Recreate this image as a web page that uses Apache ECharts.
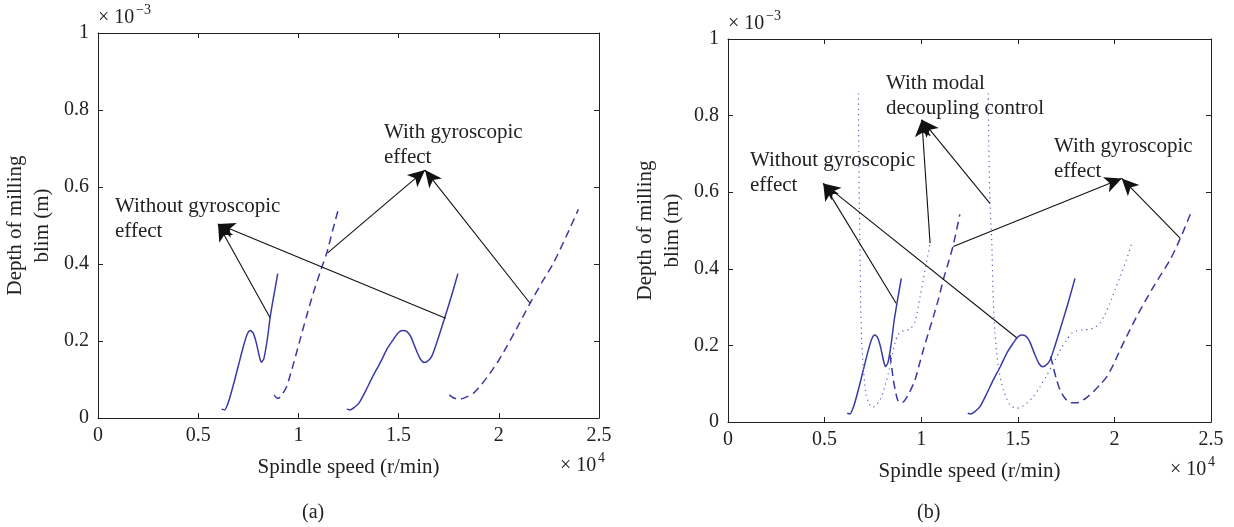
<!DOCTYPE html>
<html>
<head>
<meta charset="utf-8">
<script src="https://cdn.jsdelivr.net/npm/echarts@6/dist/echarts.min.js"></script>
<style>
  html, body { margin: 0; padding: 0; background: #fff; }
  #main { width: 1234px; height: 527px; }
</style>
</head>
<body>
<div id="main"></div>
<script>
// x in 10^4 r/min, y in 10^-3 m
const xTicks = [0, 0.5, 1, 1.5, 2, 2.5];
const yTicks = [0, 0.2, 0.4, 0.6, 0.8, 1];

// without gyroscopic effect (same in both panels)
const solidLow = [[0.617,0.023],[0.631,0.021],[0.650,0.040],[0.675,0.085],[0.700,0.135],[0.725,0.185],[0.745,0.218],[0.760,0.227],[0.775,0.220],[0.790,0.195],[0.805,0.160],[0.815,0.145],[0.828,0.155],[0.845,0.205],[0.860,0.265],[0.878,0.320],[0.897,0.375]];
const solidHigh = [[1.241,0.023],[1.257,0.021],[1.280,0.028],[1.304,0.040],[1.340,0.075],[1.373,0.110],[1.410,0.145],[1.443,0.180],[1.475,0.205],[1.500,0.222],[1.520,0.227],[1.540,0.225],[1.560,0.212],[1.589,0.175],[1.610,0.152],[1.629,0.144],[1.650,0.150],[1.667,0.162],[1.690,0.195],[1.718,0.240],[1.757,0.305],[1.796,0.375]];

// with gyroscopic effect, panel (a)
const dashLowA = [[0.878,0.060],[0.890,0.053],[0.900,0.051],[0.920,0.062],[0.941,0.081],[0.975,0.140],[1.008,0.203],[1.041,0.265],[1.074,0.324],[1.108,0.378],[1.141,0.428],[1.170,0.485],[1.199,0.542]];
const dashHighA = [[1.753,0.060],[1.775,0.052],[1.806,0.049],[1.840,0.055],[1.873,0.064],[1.915,0.088],[1.956,0.116],[2.000,0.150],[2.039,0.185],[2.100,0.243],[2.156,0.298],[2.215,0.352],[2.272,0.402],[2.335,0.470],[2.397,0.542]];

// with gyroscopic effect, panel (b)
const dashLowB = [[0.839,0.175],[0.848,0.140],[0.856,0.110],[0.865,0.085],[0.873,0.066],[0.880,0.056],[0.890,0.050],[0.903,0.051],[0.916,0.057],[0.940,0.078],[0.968,0.110],[0.990,0.150],[1.011,0.188],[1.037,0.232],[1.063,0.275],[1.090,0.322],[1.114,0.371],[1.140,0.415],[1.166,0.462],[1.200,0.542]];
const dashHighB = [[1.670,0.171],[1.685,0.140],[1.701,0.110],[1.720,0.082],[1.744,0.062],[1.765,0.052],[1.787,0.050],[1.805,0.050],[1.822,0.053],[1.855,0.063],[1.891,0.079],[1.925,0.097],[1.960,0.118],[1.995,0.150],[2.029,0.188],[2.072,0.232],[2.115,0.275],[2.158,0.314],[2.202,0.353],[2.245,0.388],[2.288,0.423],[2.340,0.478],[2.395,0.545]];

// with modal decoupling control, panel (b)
const dotLowB = [[0.675,0.858],[0.677,0.700],[0.680,0.560],[0.683,0.458],[0.687,0.301],[0.692,0.214],[0.700,0.144],[0.714,0.075],[0.730,0.048],[0.749,0.038],[0.767,0.045],[0.787,0.057],[0.810,0.090],[0.830,0.127],[0.848,0.170],[0.864,0.205],[0.880,0.228],[0.899,0.236],[0.920,0.240],[0.942,0.242],[0.968,0.262],[0.994,0.327],[1.020,0.397],[1.046,0.467]];
const dotHighB = [[1.347,0.858],[1.350,0.720],[1.356,0.571],[1.365,0.475],[1.373,0.319],[1.382,0.232],[1.399,0.144],[1.425,0.084],[1.460,0.044],[1.494,0.036],[1.520,0.040],[1.546,0.049],[1.580,0.066],[1.615,0.092],[1.650,0.122],[1.684,0.153],[1.720,0.188],[1.753,0.214],[1.780,0.232],[1.805,0.238],[1.840,0.241],[1.874,0.242],[1.900,0.248],[1.925,0.258],[1.950,0.280],[1.977,0.310],[2.003,0.345],[2.029,0.379],[2.060,0.420],[2.090,0.467]];

// annotation arrows: [tail, head]
const arrowsA = [
  [[0.858,0.261],[0.599,0.504]],
  [[1.735,0.259],[0.599,0.504]],
  [[1.146,0.429],[1.632,0.644]],
  [[2.156,0.298],[1.632,0.644]]
];
const arrowsB = [
  [[0.870,0.310],[0.493,0.623]],
  [[1.494,0.220],[0.493,0.623]],
  [[1.046,0.467],[1.003,0.789]],
  [[1.356,0.571],[1.003,0.789]],
  [[1.166,0.458],[2.038,0.636]],
  [[2.340,0.480],[2.038,0.636]]
];

const FONT = 'Liberation Serif';
const INK = '#222';
const BLUE = '#3a3aa6';

const chart = echarts.init(document.getElementById('main'), null, { renderer: 'canvas' });

function xAx(grid, pos) {
  const main = pos === 'bottom';
  return {
    type: 'value', gridIndex: grid, position: pos, min: 0, max: 2.5, interval: 0.5,
    axisLine: { show: true, onZero: false, lineStyle: { color: INK, width: 1 } },
    axisTick: { show: true, inside: true, length: 5, lineStyle: { color: INK } },
    axisLabel: { show: main, color: INK, fontFamily: FONT, fontSize: 20, margin: 8 },
    splitLine: { show: false },
    name: main ? 'Spindle speed (r/min)' : '',
    nameLocation: 'middle', nameGap: 39,
    nameTextStyle: { color: INK, fontFamily: FONT, fontSize: 21 }
  };
}
function yAx(grid, pos) {
  const main = pos === 'left';
  return {
    type: 'value', gridIndex: grid, position: pos, min: 0, max: 1, interval: 0.2,
    axisLine: { show: true, onZero: false, lineStyle: { color: INK, width: 1 } },
    axisTick: { show: true, inside: true, length: 5, lineStyle: { color: INK } },
    axisLabel: { show: main, color: INK, fontFamily: FONT, fontSize: 20, margin: 9 },
    splitLine: { show: false },
    name: main ? 'Depth of milling\nblim (m)' : '',
    nameLocation: 'middle', nameGap: 42,
    nameTextStyle: { color: INK, fontFamily: FONT, fontSize: 21, lineHeight: 27 }
  };
}

function curve(data, axisIdx, type) {
  const lineStyle = { color: BLUE, width: 1.5 };
  if (type === 'dashed') lineStyle.type = [8, 5];
  if (type === 'dotted') { lineStyle.type = [1.2, 4]; lineStyle.width = 1.2; lineStyle.color = '#5a5ac8'; }
  return {
    type: 'line', xAxisIndex: axisIdx, yAxisIndex: axisIdx, data,
    showSymbol: false, symbol: 'none', smooth: 0.25, lineStyle, silent: true, z: 2
  };
}

function arrowSeries(list, axisIdx) {
  return {
    type: 'line', xAxisIndex: axisIdx, yAxisIndex: axisIdx, data: [], silent: true,
    markLine: {
      silent: true, animation: false,
      symbol: ['none', 'arrow'], symbolSize: [12, 17],
      label: { show: false },
      lineStyle: { color: '#111', width: 1.1, type: 'solid' },
      emphasis: { disabled: true },
      data: list.map(([a, b]) => [{ coord: a }, { coord: b }])
    },
    z: 3
  };
}

const textStyle = { fill: INK, font: '21px "' + FONT + '"', lineHeight: 25 };
function label(x, y, text) {
  return { type: 'text', left: x, top: y, style: Object.assign({ text }, textStyle), z: 10 };
}

chart.setOption({
  animation: false,
  grid: [
    { left: 98, right: 635, top: 33, bottom: 109 },
    { left: 728, right: 23, top: 39, bottom: 105 }
  ],
  xAxis: [xAx(0, 'bottom'), xAx(0, 'top'), xAx(1, 'bottom'), xAx(1, 'top')],
  yAxis: [yAx(0, 'left'), yAx(0, 'right'), yAx(1, 'left'), yAx(1, 'right')],
  series: [
    curve(solidLow, 0, 'solid'),
    curve(solidHigh, 0, 'solid'),
    curve(dashLowA, 0, 'dashed'),
    curve(dashHighA, 0, 'dashed'),
    arrowSeries(arrowsA, 0),
    curve(solidLow, 2, 'solid'),
    curve(solidHigh, 2, 'solid'),
    curve(dashLowB, 2, 'dashed'),
    curve(dashHighB, 2, 'dashed'),
    curve(dotLowB, 2, 'dotted'),
    curve(dotHighB, 2, 'dotted'),
    arrowSeries(arrowsB, 2)
  ],
  graphic: [
    label(115, 194, 'Without gyroscopic\neffect'),
    label(384, 120, 'With gyroscopic\neffect'),
    label(750, 148, 'Without gyroscopic\neffect'),
    label(886, 71, 'With modal\ndecoupling control'),
    label(1054, 134, 'With gyroscopic\neffect'),
    // axis multipliers
    { type: 'text', left: 98, top: 8, style: { text: '× 10', fill: INK, font: '20px "' + FONT + '"' } },
    { type: 'text', left: 136, top: 3, style: { text: '−3', fill: INK, font: '14px "' + FONT + '"' } },
    { type: 'text', left: 728, top: 14, style: { text: '× 10', fill: INK, font: '20px "' + FONT + '"' } },
    { type: 'text', left: 766, top: 9, style: { text: '−3', fill: INK, font: '14px "' + FONT + '"' } },
    { type: 'text', left: 560, top: 456, style: { text: '× 10', fill: INK, font: '20px "' + FONT + '"' } },
    { type: 'text', left: 598, top: 451, style: { text: '4', fill: INK, font: '14px "' + FONT + '"' } },
    { type: 'text', left: 1170, top: 460, style: { text: '× 10', fill: INK, font: '20px "' + FONT + '"' } },
    { type: 'text', left: 1208, top: 455, style: { text: '4', fill: INK, font: '14px "' + FONT + '"' } },
    // panel captions
    { type: 'text', left: 302, top: 503, style: { text: '(a)', fill: INK, font: '20px "' + FONT + '"' } },
    { type: 'text', left: 917, top: 503, style: { text: '(b)', fill: INK, font: '20px "' + FONT + '"' } }
  ]
});
</script>
</body>
</html>
